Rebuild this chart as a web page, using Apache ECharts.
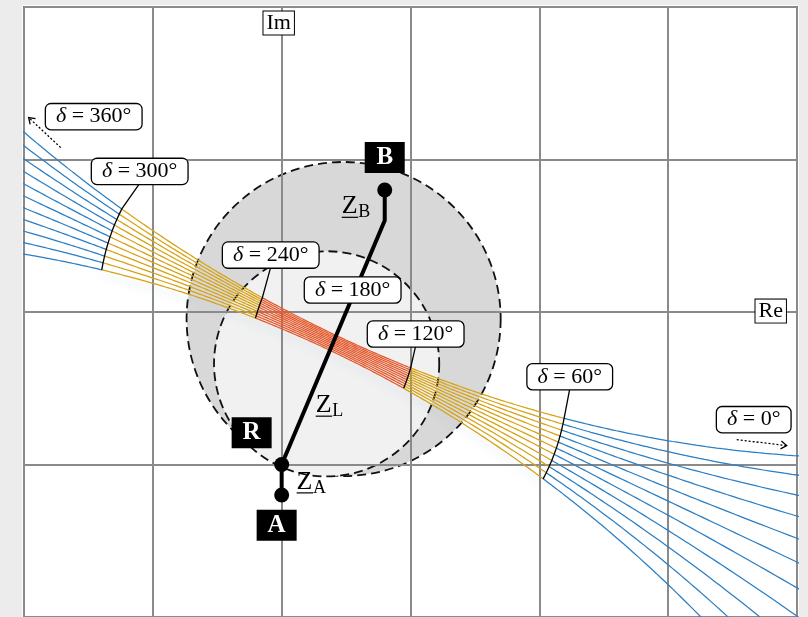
<!DOCTYPE html>
<html>
<head>
<meta charset="utf-8">
<script src="https://cdn.jsdelivr.net/npm/echarts@6/dist/echarts.min.js"></script>
<style>
  html, body { margin: 0; padding: 0; background: #ececec; }
  #chart { width: 808px; height: 617px; }
</style>
</head>
<body>
<div id="chart"></div>
<script>
// Network nodes in the impedance plane (grid units, R = relay location)
const pointA = [0, -1.2];
const pointR = [0, -1.0];
const pointBend = [0.8, 0.6];
const pointB = [0.8, 0.8];

// EMF magnitude ratios |E_A| / |E_B| of the plotted swing loci
const ratios = [0.90, 0.92, 0.94, 0.96, 0.98, 1.00, 1.02, 1.04, 1.06, 1.08, 1.10];

// Load-angle bands (degrees) and their colours
const bandEdges = [0, 60, 120, 240, 300, 360];
const bandColors = ['#2a7ec3', '#d6a214', '#e4582b', '#d6a214', '#2a7ec3'];

// Load angles marked with a constant-δ arc
const markedAngles = [60, 120, 240, 300];

// Relay characteristics: centre and radius (x grid units)
const outerCircle = { c: [0.481, -0.046], r: 1.219 };
const innerCircle = { c: [0.349, -0.340], r: 0.874 };

// δ callouts and their anchor points
const angleLabels = [360, 300, 240, 180, 120, 60, 0];
const angleLabelPos = [
  [-1.459, 1.281], [-1.102, 0.922], [-0.085, 0.373], [0.551, 0.144],
  [1.040, -0.144], [2.236, -0.425], [3.664, -0.706]
];

// Direction arrows for δ → 360° and δ → 0°
const swingArrows = [
  [[-1.715, 1.078], [-1.964, 1.275]],
  [[3.532, -0.837], [3.920, -0.876]]
];

// Node tags and impedance names
const nodeTags = ['B', 'R', 'A'];
const nodeTagPos = [[0.800, 1.013], [-0.233, -0.791], [-0.039, -1.399]];
const impNames = ['B', 'L', 'A'];
const impNamePos = [[0.466, 0.693], [0.264, -0.611], [0.116, -1.114]];

// Axis names
const axisNames = ['Im', 'Re'];
const axisNamePos = [[-0.023, 1.895], [3.796, 0.006]];

// Apparent impedance seen at R for E_A = k·e^{jδ}·E_B
function locus(k, deg) {
  const d = deg * Math.PI / 180;
  const mr = k * Math.cos(d), mi = k * Math.sin(d);
  const dr = mr - 1, di = mi;
  const den = dr * dr + di * di;
  const wr = (mr * dr + mi * di) / den;
  const wi = (mi * dr - mr * di) / den;
  const ux = pointB[0] - pointA[0], uy = pointB[1] - pointA[1];
  return [pointA[0] + ux * wr - uy * wi, pointA[1] + ux * wi + uy * wr];
}

const SERIF = '"Liberation Serif", "DejaVu Serif", serif';
const series = [];

// Relay characteristic circles
series.push({
  type: 'custom', z: 1, silent: true, animation: false,
  data: [[0, 0], [1, 0]],
  renderItem: function (p, api) {
    const cc = p.dataIndex === 0 ? outerCircle : innerCircle;
    const c = api.coord(cc.c);
    const r = api.size([cc.r, 0])[0];
    return {
      type: 'circle',
      shape: { cx: c[0], cy: c[1], r: r },
      style: {
        fill: p.dataIndex === 0 ? '#d8d8d8' : '#f1f1f1',
        stroke: '#111', lineWidth: 1.8, lineDash: [9, 5]
      }
    };
  }
});

// Swing loci, one line per ratio and per δ band
ratios.forEach(function (k, ki) {
  for (let b = 0; b < bandColors.length; b++) {
    const pts = [];
    for (let d = bandEdges[b]; d <= bandEdges[b + 1] + 1e-9; d += 0.5) {
      let dd = d;
      if (dd < 0.3) dd = 0.3;
      if (dd > 359.7) dd = 359.7;
      pts.push(locus(k, dd));
    }
    const lowest = ki === 0;
    const ls = { color: bandColors[b], width: 1.25 };
    if (lowest && b !== 0 && b !== 4) {
      // soft halo under the lower edge of the bundle
      ls.shadowColor = 'rgba(110,150,200,0.35)';
      ls.shadowBlur = 8;
      ls.shadowOffsetY = 5;
    }
    series.push({
      type: 'line', data: pts, showSymbol: false, symbol: 'none',
      silent: true, animation: false, clip: true, z: 3,
      lineStyle: ls
    });
  }
});

// Constant-δ arcs with their callout leaders
series.push({
  type: 'custom', z: 4, silent: true, animation: false,
  data: markedAngles.map(function (a, i) { return [i, 0]; }),
  renderItem: function (p, api) {
    const ang = markedAngles[p.dataIndex];
    const lab = api.coord(angleLabelPos[angleLabels.indexOf(ang)]);
    const pts = [[lab[0], lab[1] + 12]];
    for (let i = ratios.length - 1; i >= 0; i--) pts.push(api.coord(locus(ratios[i], ang)));
    return { type: 'polyline', shape: { points: pts }, style: { stroke: '#000', lineWidth: 1.3, fill: null } };
  }
});

// Line impedances A–R–B
series.push({
  type: 'line', data: [pointA, pointR, pointBend, pointB], showSymbol: false, symbol: 'none',
  silent: true, animation: false, z: 5,
  lineStyle: { color: '#000', width: 4 }
});
series.push({
  type: 'scatter', data: [pointA, pointR, pointB], symbolSize: 15, silent: true, animation: false, z: 6,
  itemStyle: { color: '#000', opacity: 1 }
});

// Dotted direction arrows
series.push({
  type: 'custom', z: 6, silent: true, animation: false,
  data: swingArrows.map(function (a, i) { return [i, 0]; }),
  renderItem: function (p, api) {
    const s = api.coord(swingArrows[p.dataIndex][0]);
    const e = api.coord(swingArrows[p.dataIndex][1]);
    const ang = Math.atan2(e[1] - s[1], e[0] - s[0]);
    const h = 7, w = 0.6;
    const p1 = [e[0] - h * Math.cos(ang - w), e[1] - h * Math.sin(ang - w)];
    const p2 = [e[0] - h * Math.cos(ang + w), e[1] - h * Math.sin(ang + w)];
    return {
      type: 'group', children: [
        { type: 'line', shape: { x1: s[0], y1: s[1], x2: e[0], y2: e[1] }, style: { stroke: '#000', lineWidth: 1.3, lineDash: [2, 2] } },
        { type: 'polyline', shape: { points: [p1, e, p2] }, style: { stroke: '#000', lineWidth: 1.3, fill: null } }
      ]
    };
  }
});

// δ callout boxes
series.push({
  type: 'custom', z: 8, silent: true, animation: false,
  data: angleLabels.map(function (a, i) { return [i, 0]; }),
  renderItem: function (p, api) {
    const c = api.coord(angleLabelPos[p.dataIndex]);
    return {
      type: 'text', x: c[0], y: c[1],
      style: {
        text: '{d|δ} = ' + angleLabels[p.dataIndex] + '°',
        rich: { d: { fontStyle: 'italic', fontFamily: SERIF, fontSize: 22, fill: '#000' } },
        fontFamily: SERIF, fontSize: 22, fill: '#000',
        align: 'center', verticalAlign: 'middle',
        backgroundColor: '#fff', borderColor: '#000', borderWidth: 1.3, borderRadius: 5,
        padding: [1, 10, 1, 10], lineHeight: 23
      }
    };
  }
});

// Node tags (white letters on black)
series.push({
  type: 'custom', z: 8, silent: true, animation: false,
  data: nodeTags.map(function (a, i) { return [i, 0]; }),
  renderItem: function (p, api) {
    const c = api.coord(nodeTagPos[p.dataIndex]);
    return {
      type: 'text', x: c[0], y: c[1],
      style: {
        text: nodeTags[p.dataIndex], fontFamily: SERIF, fontWeight: 'bold', fontSize: 25, fill: '#fff',
        align: 'center', verticalAlign: 'middle', backgroundColor: '#000',
        width: 18, padding: [3, 11, 3, 11], lineHeight: 25
      }
    };
  }
});

// Impedance names Z_B, Z_L, Z_A (underlined phasor notation)
series.push({
  type: 'custom', z: 8, silent: true, animation: false,
  data: impNames.map(function (a, i) { return [i, 0]; }),
  renderItem: function (p, api) {
    const c = api.coord(impNamePos[p.dataIndex]);
    return {
      type: 'group', children: [
        { type: 'text', x: c[0], y: c[1], style: { text: 'Z', fontFamily: SERIF, fontSize: 26, fill: '#000', align: 'left', verticalAlign: 'middle' } },
        { type: 'text', x: c[0] + 16.5, y: c[1] + 6, style: { text: impNames[p.dataIndex], fontFamily: SERIF, fontSize: 18, fill: '#000', align: 'left', verticalAlign: 'middle' } },
        { type: 'line', shape: { x1: c[0], y1: c[1] + 11, x2: c[0] + 16.5, y2: c[1] + 11 }, style: { stroke: '#000', lineWidth: 1.2 } }
      ]
    };
  }
});

// Axis names in boxes
series.push({
  type: 'custom', z: 8, silent: true, animation: false,
  data: axisNames.map(function (a, i) { return [i, 0]; }),
  renderItem: function (p, api) {
    const c = api.coord(axisNamePos[p.dataIndex]);
    return {
      type: 'text', x: c[0], y: c[1],
      style: {
        text: axisNames[p.dataIndex], fontFamily: SERIF, fontSize: 22, fill: '#000',
        align: 'center', verticalAlign: 'middle', backgroundColor: '#fff',
        borderColor: '#000', borderWidth: 1, padding: [1, 3, 0, 3], lineHeight: 22
      }
    };
  }
});

const chart = echarts.init(document.getElementById('chart'));
chart.setOption({
  animation: false,
  backgroundColor: 'transparent',
  graphic: [{
    type: 'rect', z: -10, silent: true,
    shape: { x: 22, y: 5, width: 777, height: 614 },
    style: { fill: '#fff' }
  }],
  grid: { left: 24, right: 11, top: 7, bottom: -2, show: true, borderColor: '#6e6e6e', borderWidth: 2, backgroundColor: 'transparent', z: 2 },
  xAxis: {
    type: 'value', min: -2, max: 4, interval: 1, z: 2,
    axisLine: { show: false }, axisTick: { show: false }, axisLabel: { show: false },
    splitLine: { show: true, lineStyle: { color: '#8a8a8a', width: 2 } }
  },
  yAxis: {
    type: 'value', min: -2, max: 2, interval: 1, z: 2,
    axisLine: { show: false }, axisTick: { show: false }, axisLabel: { show: false },
    splitLine: { show: true, lineStyle: { color: '#8a8a8a', width: 2 } }
  },
  series: series
});
</script>
</body>
</html>
